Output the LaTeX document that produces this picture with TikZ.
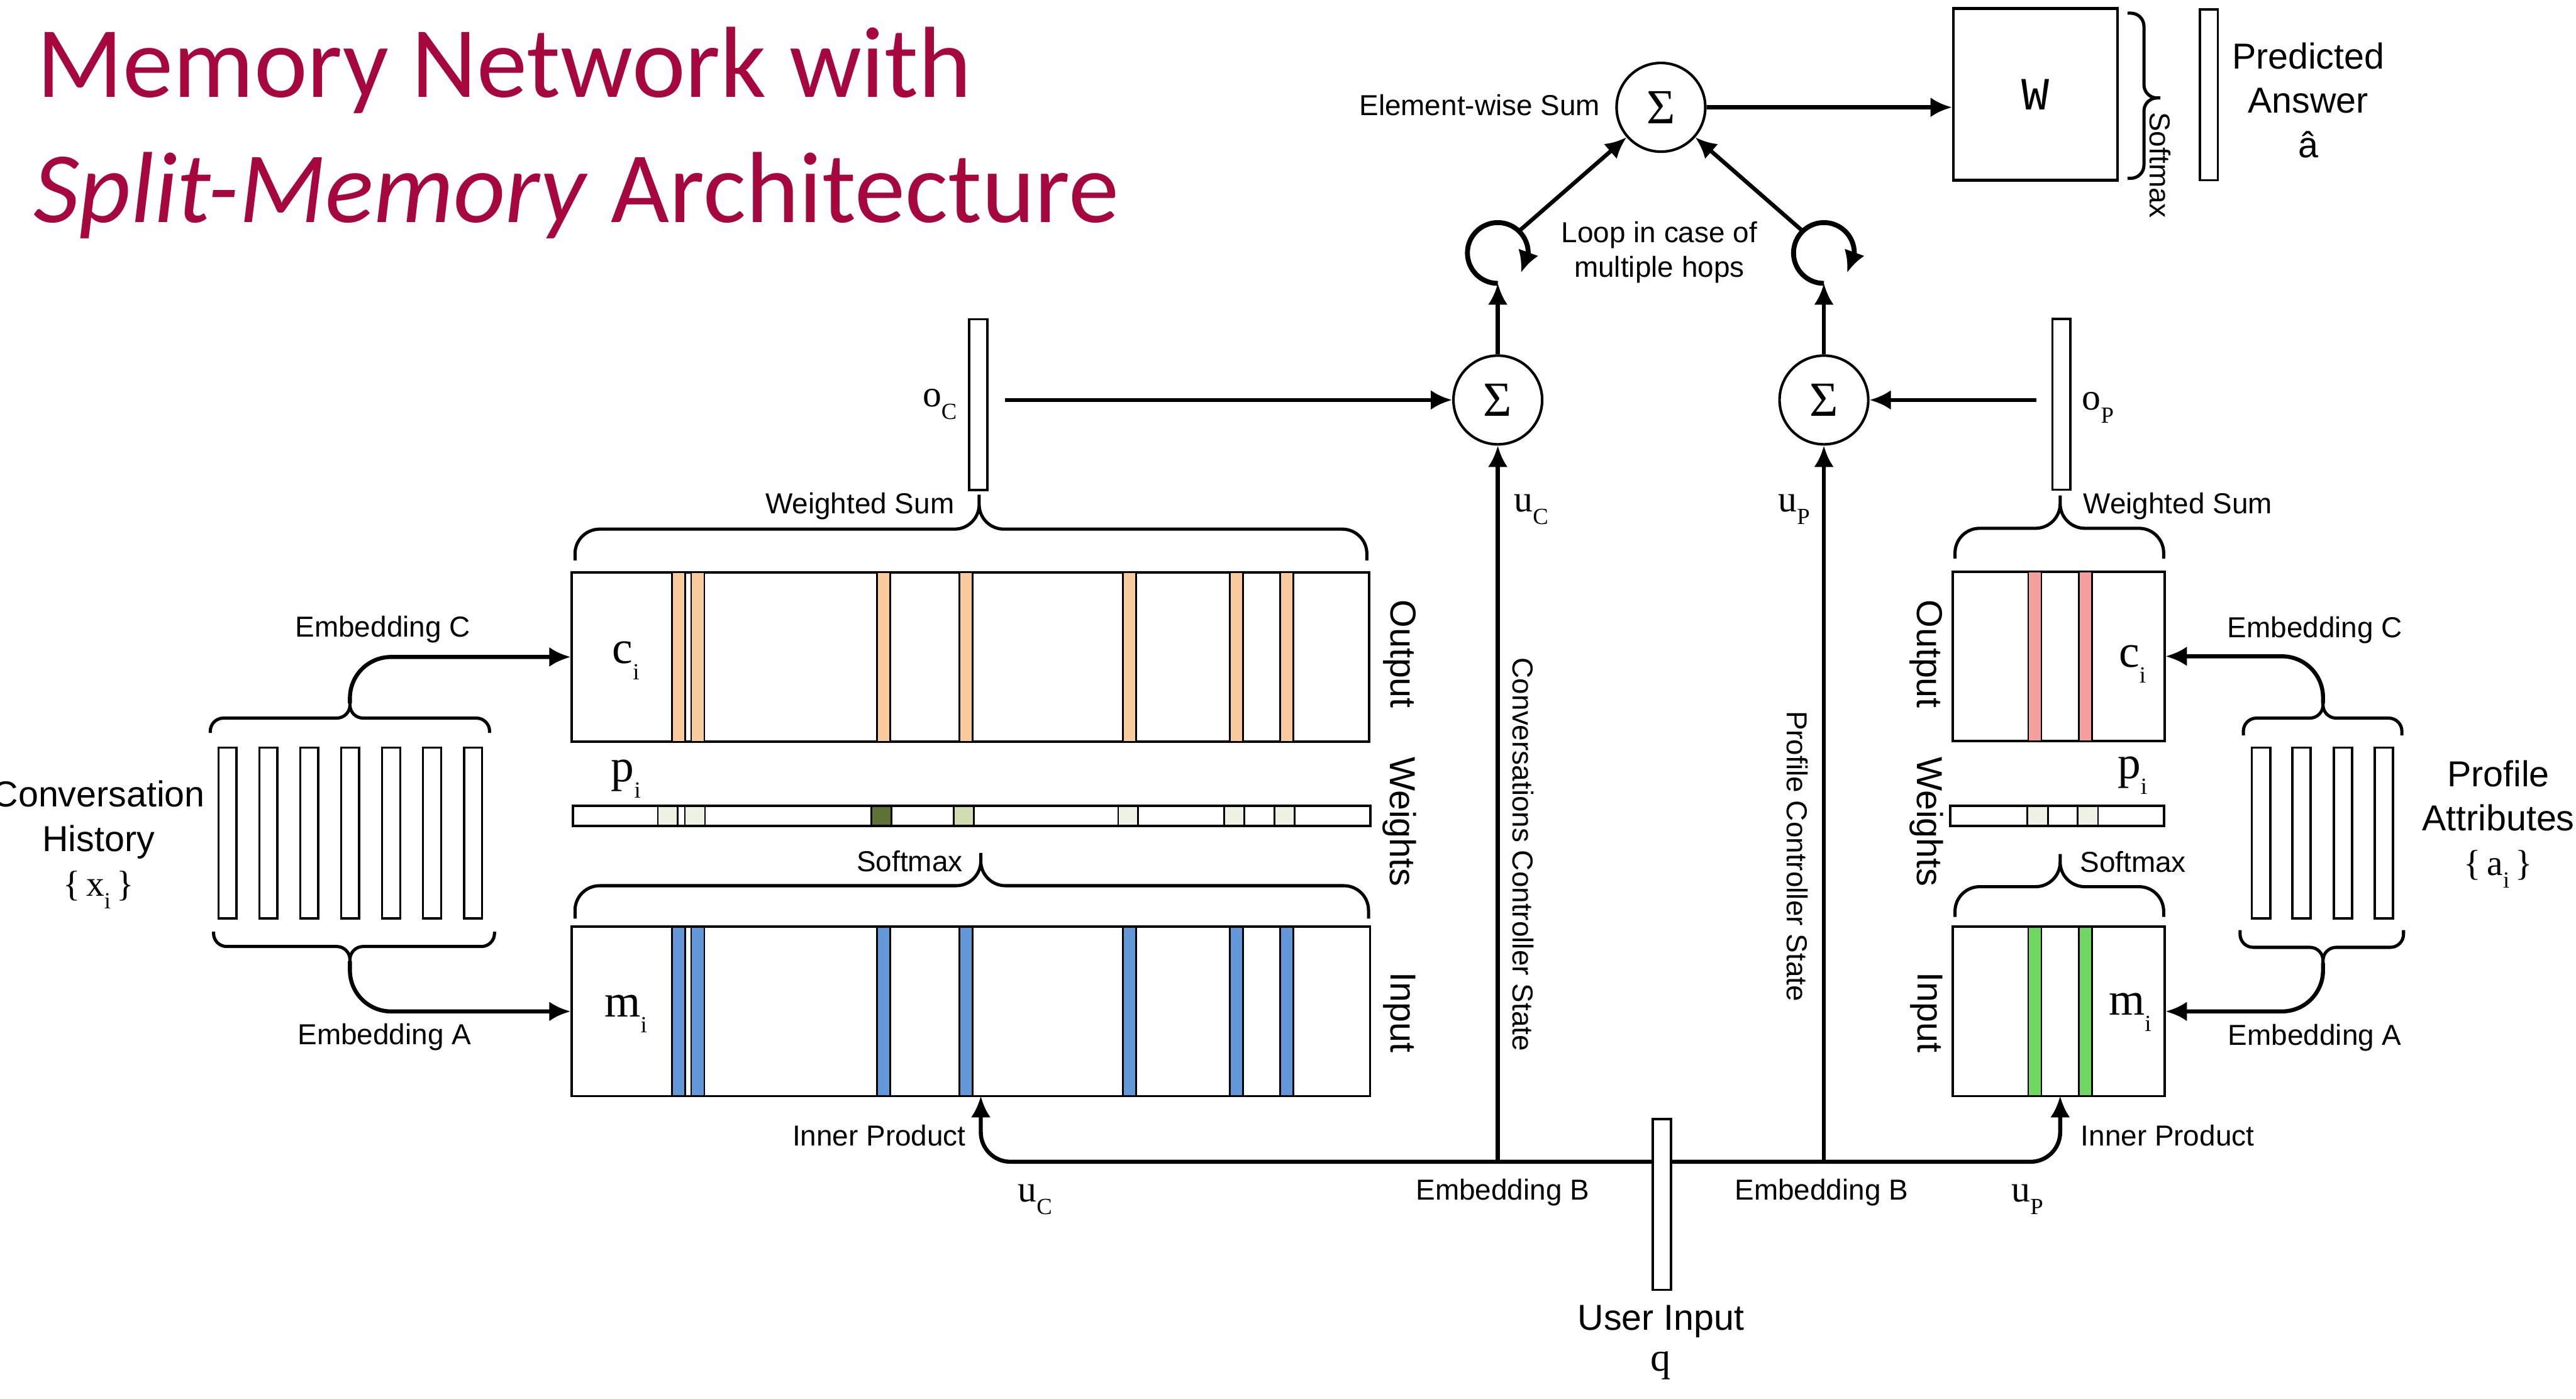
\documentclass[tikz,border=0pt]{standalone}
\usepackage{fontspec}
\setmainfont{Liberation Sans}
\newfontfamily\tnr{Liberation Serif}
\newfontfamily\cour{Liberation Mono}
\newfontfamily\headfont{Carlito}
\usetikzlibrary{arrows.meta, bending}

\definecolor{titlered}{RGB}{166,8,61}
\definecolor{peach}{RGB}{249,203,156}
\definecolor{skyblue}{RGB}{98,152,216}
\definecolor{rose}{RGB}{244,160,158}
\definecolor{leaf}{RGB}{112,214,98}
\definecolor{paleg}{RGB}{238,242,228}
\definecolor{midg}{RGB}{207,221,176}
\definecolor{darkg}{RGB}{94,114,51}

% lowered index, as in c_i, o_C
\newcommand{\lsub}[1]{\raisebox{-0.75ex}{\fontsize{8}{8}\selectfont #1}}

\begin{document}
\begin{tikzpicture}[x=0.2mm, y=0.2mm,
    mem/.style={draw, line width=0.8pt, inner sep=0, minimum height=20.6mm},
    wbar/.style={draw, line width=0.8pt, inner sep=0, minimum height=2.4mm},
    vbar/.style={draw, fill=white, line width=0.8pt, inner sep=0, minimum width=2.2mm, minimum height=20.8mm},
    sumn/.style={draw, circle, line width=0.9pt, inner sep=0, minimum size=10.8mm, font=\tnr\fontsize{17}{17}\selectfont},
    loopn/.style={circle, inner sep=0, minimum size=7.4mm},
    lbl/.style={font=\fontsize{10}{11.9}\selectfont, inner sep=1pt},
    side/.style={font=\fontsize{12.5}{15}\selectfont, rotate=-90, inner sep=1pt},
    big/.style={font=\fontsize{12.5}{15.4}\selectfont, align=center, inner sep=1pt},
    sym/.style={font=\tnr\fontsize{16}{18}\selectfont, inner sep=1pt},
    vsym/.style={font=\tnr\fontsize{13}{15}\selectfont, inner sep=1pt},
    arr/.style={line width=1.4pt, -{Latex[length=2.6mm, width=2.4mm]}},
    looparr/.style={line width=1.7pt, -{Latex[length=2.6mm, width=2.6mm]}},
    brc/.style={line width=1.1pt, rounded corners=3mm},
    sbrc/.style={line width=1.1pt, rounded corners=1.6mm},
    stripe/.style={draw, line width=0.6pt},
]
\path[use as bounding box, fill=white] (0,0) rectangle (1568,-851);

% title
\node[anchor=base west, inner sep=0, text=titlered, font=\headfont\fontsize{35}{40}\selectfont] (title1) at (22,-59.3) {Memory Network with};
\node[anchor=base west, inner sep=0, text=titlered, font=\headfont\fontsize{35}{40}\selectfont] (title2) at (20,-135.3) {\textit{Split-Memory} Architecture};

% answer module
\node[sumn] (sumTop) at (1011,-65.3) {Σ};
\node[lbl, anchor=east] (ewsum) at (976,-64) {Element-wise Sum};
\node[draw, line width=0.9pt, minimum width=20mm, minimum height=20.9mm, font=\cour\fontsize{16}{16}\selectfont] (W) at (1238.9,-57.4) {W};
\node[vbar] (ans) at (1344.5,-57.7) {};
\node[big] (predict) at (1405,-61) {Predicted\\Answer\\â};
\node[lbl, rotate=-90] (smaxW) at (1315,-100.5) {Softmax};
\draw[sbrc] (1295,-8) -| (1305,-59.6) -- (1315,-59.6)
            (1295,-108.5) -| (1305,-59.6) -- (1315,-59.6);
\draw[arr] (sumTop) -- (sumTop -| W.west);

% hops
\node[loopn] (loopC) at (911.7,-153.6) {};
\node[loopn] (loopP) at (1110.2,-153.6) {};
\draw[looparr] (loopC.south) arc[start angle=270, end angle=-40, radius=3.7mm];
\draw[looparr] (loopP.south) arc[start angle=270, end angle=-40, radius=3.7mm];
\draw[arr] (loopC.45) -- (sumTop);
\draw[arr] (loopP.135) -- (sumTop);
\node[lbl, align=center] (loopnote) at (1010,-153.5) {Loop in case of\\multiple hops};

\node[sumn] (sumC) at (911.7,-243.4) {Σ};
\node[sumn] (sumP) at (1110.2,-243.4) {Σ};
\draw[arr] (sumC) -- (loopC.south);
\draw[arr] (sumP) -- (loopP.south);

% output vectors
\node[vbar] (oC) at (595.4,-246.3) {};
\node[vsym] (oClbl) at (572,-246) {o\lsub{C}};
\node[vbar] (oP) at (1254.8,-246) {};
\node[vsym] (oPlbl) at (1277,-248) {o\lsub{P}};
\draw[arr, shorten <=2mm] (oC.east |- sumC) -- (sumC);
\draw[arr, shorten <=1.8mm] (oP.west |- sumP) -- (sumP);

\node[vsym] (uCtop) at (932,-310) {u\lsub{C}};
\node[vsym] (uPtop) at (1092,-310) {u\lsub{P}};
\node[lbl, rotate=-90] (ccs) at (927,-520) {Conversations Controller State};
\node[lbl, rotate=-90] (pcs) at (1094,-521) {Profile Controller State};

% conversation memory
\node[mem, minimum width=97.06mm] (outC) at (590.7,-399.8) {};
\node[wbar, minimum width=97.1mm] (pC) at (591.4,-496.5) {};
\node[mem, minimum width=97.2mm] (inC) at (591,-615.5) {};
\foreach \sx in {409,420.7,533.8,583.9,683.6,748.6,779.2} {
  \draw[stripe, fill=peach] (\sx,-348.3) rectangle ++(8,-103);
  \draw[stripe, fill=skyblue] (\sx,-564) rectangle ++(8,-103);
}
\foreach \cx/\cc in {400.4/paleg, 416.9/paleg, 530.3/darkg, 580.5/midg, 680.6/paleg, 745.2/paleg, 775.8/paleg}
  \draw[stripe, fill=\cc] (\cx,-490.5) rectangle ++(12.2,-12);
\node[sym] (ciC) at (381,-402) {c\lsub{i}};
\node[sym] (piC) at (381,-474) {p\lsub{i}};
\node[sym] (miC) at (381,-617) {m\lsub{i}};
\node[side] (outlC) at (852,-398) {Output};
\node[side] (wlC) at (852,-500) {Weights};
\node[side] (inlC) at (852,-616) {Input};

\draw[brc] (350,-341) |- (596,-322) -- (596,-301)
           (832,-341) |- (596,-322) -- (596,-301);
\node[lbl, anchor=east] (wsumC) at (583,-308) {Weighted Sum};
\draw[brc] (350,-559) |- (597,-539) -- (597,-519)
           (833,-559) |- (597,-539) -- (597,-519);
\node[lbl, anchor=east] (smaxC) at (588,-524) {Softmax};

% conversation history
\foreach \k in {0,...,6}
  \draw[line width=0.8pt] ({133+24.9*\k},-455) rectangle ++(11,-104);
\coordinate (embCc) at (213,-428);
\coordinate (embAc) at (213,-585);
\draw[sbrc] (128,-446) |- (213,-437) -- (embCc)
            (298,-446) |- (213,-437) -- (embCc);
\draw[sbrc] (130,-567) |- (213,-576) -- (embAc)
            (301,-567) |- (213,-576) -- (embAc);
\draw[arr, rounded corners=5mm] (embCc) |- (outC.west);
\draw[arr, rounded corners=5mm] (embAc) |- (inC.west);
\node[lbl] (embCl) at (233,-383) {Embedding C};
\node[lbl] (embAl) at (234,-631) {Embedding A};
\node[big] (conv) at (60,-514) {Conversation\\History\\{\tnr\{\,x\lsub{i}\,\}}};

% profile memory
\node[mem, minimum width=25.8mm] (outP) at (1253,-399.4) {};
\node[wbar, minimum width=26mm] (pP) at (1252.2,-496.5) {};
\node[mem, minimum width=25.8mm] (inP) at (1253,-615.5) {};
\foreach \sx in {1234.6,1265.4} {
  \draw[stripe, fill=rose] (\sx,-348) rectangle ++(8,-103);
  \draw[stripe, fill=leaf] (\sx,-564) rectangle ++(8,-103);
}
\foreach \cx in {1234,1264.5}
  \draw[stripe, fill=paleg] (\cx,-490.5) rectangle ++(12.5,-12);
\node[sym] (ciP) at (1298,-404) {c\lsub{i}};
\node[sym] (piP) at (1298,-472) {p\lsub{i}};
\node[sym] (miP) at (1296.5,-616) {m\lsub{i}};
\node[side] (outlP) at (1172.5,-398) {Output};
\node[side] (wlP) at (1172.5,-500) {Weights};
\node[side] (inlP) at (1172.5,-616) {Input};

\draw[brc] (1190,-340) |- (1254,-321.5) -- (1254,-301.5)
           (1317,-340) |- (1254,-321.5) -- (1254,-301.5);
\node[lbl, anchor=west] (wsumP) at (1266,-308) {Weighted Sum};
\draw[brc] (1190,-558) |- (1254,-539.6) -- (1254,-519.7)
           (1317,-558) |- (1254,-539.6) -- (1254,-519.7);
\node[lbl, anchor=west] (smaxP) at (1264,-524.6) {Softmax};

% profile attributes
\foreach \px in {1370.7,1395.3,1420.6,1445.4}
  \draw[line width=0.8pt] (\px,-455) rectangle ++(11.2,-104);
\coordinate (embCp) at (1414,-428);
\coordinate (embAp) at (1414,-586);
\draw[sbrc] (1365.5,-447.5) |- (1414,-437) -- (embCp)
            (1462,-447.5) |- (1414,-437) -- (embCp);
\draw[sbrc] (1363.5,-566) |- (1414,-576.5) -- (embAp)
            (1463,-566) |- (1414,-576.5) -- (embAp);
\draw[arr, rounded corners=5mm] (embCp) |- (outP.east);
\draw[arr, rounded corners=5mm] (embAp) |- (inP.east);
\node[lbl] (embCr) at (1409,-383.4) {Embedding C};
\node[lbl] (embAr) at (1409,-631.4) {Embedding A};
\node[big] (prof) at (1520.7,-501.5) {Profile\\Attributes\\{\tnr\{\,a\lsub{i}\,\}}};

% user input and embedding B
\node[vbar] (q) at (1011.5,-733) {};
\coordinate (bus) at (0,-707);
\coordinate (inCq) at (597,-667);
\coordinate (inPq) at (1254,-667);
\draw[arr, rounded corners=3.6mm] (q.west |- bus) -| (inCq);
\draw[arr, rounded corners=3.6mm] (q.east |- bus) -| (inPq);
\draw[arr] (sumC |- bus) -- (sumC);
\draw[arr] (sumP |- bus) -- (sumP);
\node[lbl, anchor=east] (ipC) at (590,-691) {Inner Product};
\node[lbl, anchor=west] (ipP) at (1264.5,-691) {Inner Product};
\node[vsym] (uCbot) at (630,-730) {u\lsub{C}};
\node[vsym] (uPbot) at (1234,-730) {u\lsub{P}};
\node[lbl] (embBl) at (914.6,-725.5) {Embedding B};
\node[lbl] (embBr) at (1108.7,-725.5) {Embedding B};
\node[big] (user) at (1011,-804) {User Input};
\node[font=\tnr\fontsize{14}{14}\selectfont, inner sep=1pt] (qlbl) at (1011,-831) {q};
\end{tikzpicture}
\end{document}
